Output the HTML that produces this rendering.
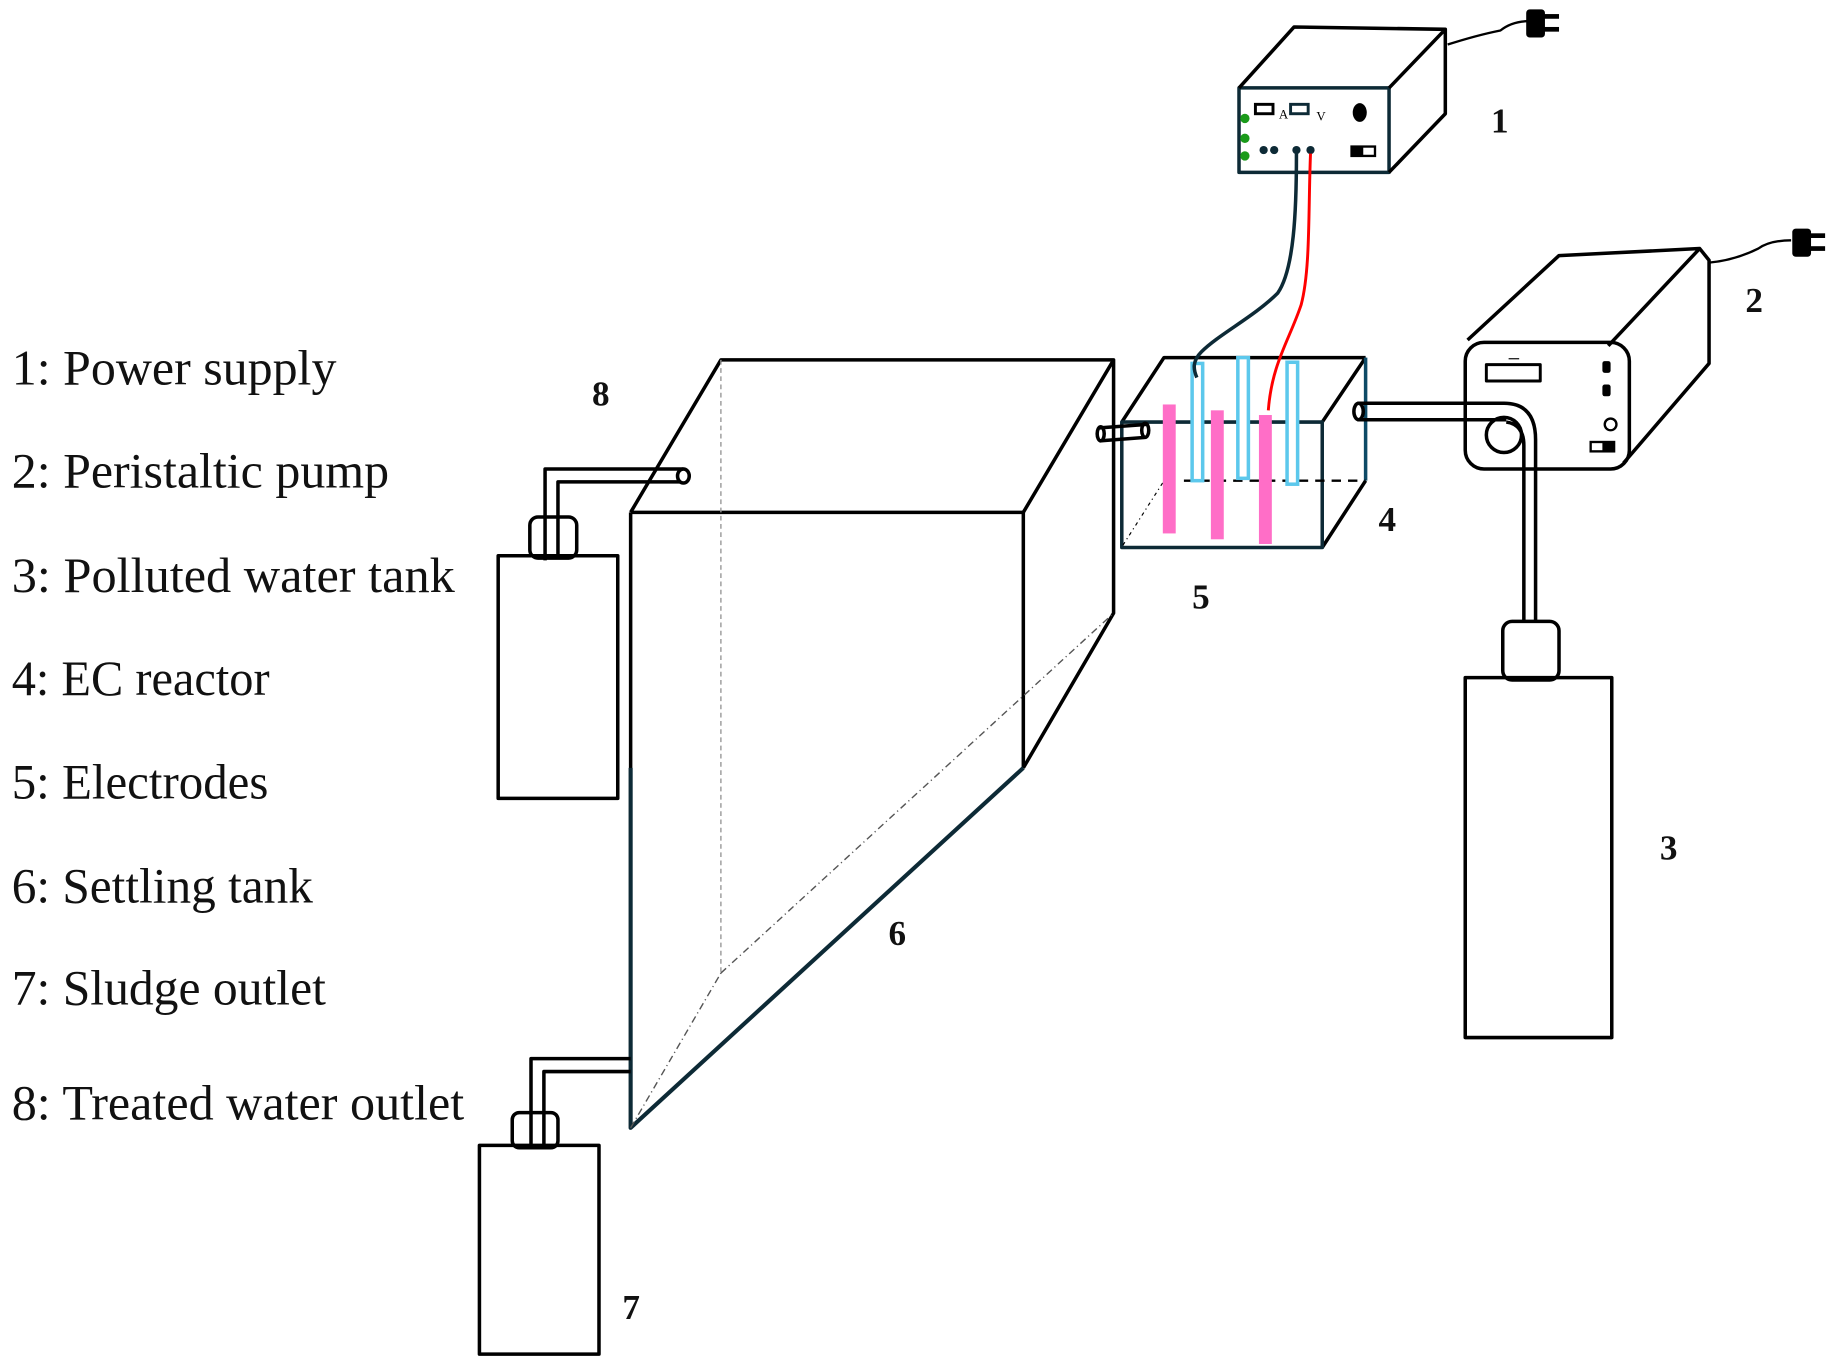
<!DOCTYPE html>
<html><head><meta charset="utf-8"><style>
html,body{margin:0;padding:0;background:#fff;}
svg{display:block;}
text{font-family:"Liberation Serif",serif;}
</style></head><body>
<svg width="1838" height="1367" viewBox="0 0 1568 1166" preserveAspectRatio="none" xmlns="http://www.w3.org/2000/svg">
<g font-size="42" fill="#111">
<text x="10" y="328" textLength="277" lengthAdjust="spacingAndGlyphs">1: Power supply</text>
<text x="10" y="416" textLength="322" lengthAdjust="spacingAndGlyphs">2: Peristaltic pump</text>
<text x="10" y="505" textLength="378" lengthAdjust="spacingAndGlyphs">3: Polluted water tank</text>
<text x="10" y="593" textLength="220" lengthAdjust="spacingAndGlyphs">4: EC reactor</text>
<text x="10" y="681" textLength="219" lengthAdjust="spacingAndGlyphs">5: Electrodes</text>
<text x="10" y="770" textLength="257" lengthAdjust="spacingAndGlyphs">6: Settling tank</text>
<text x="10" y="857" textLength="268" lengthAdjust="spacingAndGlyphs">7: Sludge outlet</text>
<text x="10" y="955" textLength="386" lengthAdjust="spacingAndGlyphs">8: Treated water outlet</text>
</g>
<g font-size="30" font-weight="bold" fill="#111">
<text x="1272" y="113">1</text>
<text x="1489" y="266">2</text>
<text x="1416" y="733">3</text>
<text x="1176" y="453">4</text>
<text x="1017" y="519">5</text>
<text x="758" y="806">6</text>
<text x="531" y="1125">7</text>
<text x="505" y="346">8</text>
</g>
<g fill="none" stroke="#000" stroke-width="3" stroke-linejoin="round">
<rect x="1057" y="75" width="128" height="72" stroke="#0d2a36"/>
<path d="M1057 75 L1104 23 L1233 25 L1185 75 M1233 25 L1233 97 L1185 147"/>
<path d="M1235 38 Q1260 30 1280 26 Q1290 18 1305 18" stroke-width="2"/>
<rect x="1250" y="292" width="140" height="108" rx="16"/>
<path d="M1252 290 L1330 218 L1450 212 L1458 222 L1458 310 L1385 395 M1450 212 L1372 295"/>
<path d="M1458 224 Q1480 222 1500 212 Q1510 205 1528 205" stroke-width="2"/>
<rect x="1268" y="311" width="46" height="14" stroke-width="2.5"/>
<circle cx="1283" cy="371" r="15"/>
<circle cx="1374" cy="362" r="5" stroke-width="2"/>
<path d="M957 360 L993 305 L1165 305 M1128 360 L1165 305 M1128 467 L1165 410"/>
<path d="M1165 305 L1165 410" stroke="#0d4a66"/>
<rect x="957" y="360" width="171" height="107" stroke="#0d2a36"/>
<path d="M1010 410 L1165 410" stroke-dasharray="8 6" stroke-width="2"/>
<path d="M958 465 L1002 396" stroke-width="1" stroke-dasharray="3 3 1 3"/>
<path d="M538 437 L615 307 L950 307 L950 523 L873 655 M873 437 L950 307"/>
<path d="M538 437 L873 437 L873 655"/>
<path d="M538 437 L538 962" />
<path d="M538 655 L538 962 L873 655" stroke="#0d2a36" stroke-width="3.5"/>
<path d="M615 307 L615 830" stroke="#999" stroke-width="1.2" stroke-dasharray="4 3"/>
<path d="M615 830 L950 523 M538 962 L615 830" stroke="#555" stroke-width="1.2" stroke-dasharray="6 3 1 3"/>
<rect x="425" y="474" width="102" height="207"/>
<rect x="452" y="441" width="40" height="35" rx="7"/>
<path d="M465 478 L465 400 L583 400 M476 476 L476 411 L580 411"/>
<ellipse cx="583" cy="406" rx="5" ry="6"/>
<rect x="409" y="977" width="102" height="178"/>
<rect x="437" y="949" width="39" height="30" rx="6"/>
<path d="M453 979 L453 903 L538 903 M464 978 L464 914 L538 914"/>
<rect x="1250" y="578" width="125" height="307"/>
<rect x="1282" y="530" width="48" height="50" rx="8"/>
<path d="M1300 530 L1300 380 Q1300 362 1285 360 M1310 530 L1310 375 Q1310 344 1283 344 L1158 344 M1285 358 L1158 358"/>
<ellipse cx="1159" cy="351" rx="4" ry="7"/>
<path d="M938 365 L978 362 M938 376 L978 373"/>
<ellipse cx="939" cy="370" rx="3" ry="6"/>
<ellipse cx="977" cy="367" rx="3" ry="6"/>
</g>
<g>
<rect x="1071" y="89" width="15" height="8" fill="#fff" stroke="#000" stroke-width="2.5"/>
<rect x="1101" y="89" width="15" height="8" fill="#fff" stroke="#0d2a36" stroke-width="2.5"/>
<text x="1091" y="101" font-size="11" font-family="Liberation Sans,sans-serif">A</text>
<text x="1123" y="103" font-size="11" font-family="Liberation Sans,sans-serif">V</text>
<ellipse cx="1160" cy="96" rx="6" ry="8" fill="#000"/>
<circle cx="1062" cy="101" r="4" fill="#1a9a1a"/><circle cx="1062" cy="118" r="4" fill="#1a9a1a"/><circle cx="1062" cy="133" r="4" fill="#1a9a1a"/>
<circle cx="1078" cy="128" r="3.5" fill="#0d2a36"/><circle cx="1087" cy="128" r="3.5" fill="#0d2a36"/>
<circle cx="1106" cy="128" r="3.5" fill="#0d2a36"/><circle cx="1118" cy="128" r="3.5" fill="#0d2a36"/>
<rect x="1152" y="124" width="22" height="10" fill="#000"/><rect x="1163" y="126" width="9" height="6" fill="#fff"/>
<rect x="1302" y="8" width="16" height="24" rx="3" fill="#000"/><rect x="1316" y="12" width="14" height="4" fill="#000"/><rect x="1316" y="23" width="14" height="4" fill="#000"/>
<rect x="1529" y="195" width="16" height="24" rx="3" fill="#000"/><rect x="1543" y="199" width="14" height="4" fill="#000"/><rect x="1543" y="210" width="14" height="4" fill="#000"/>
<rect x="1367" y="308" width="7" height="10" rx="2" fill="#000"/><rect x="1367" y="328" width="7" height="10" rx="2" fill="#000"/>
<rect x="1356" y="376" width="22" height="10" fill="#000"/><rect x="1358" y="378" width="9" height="6" fill="#fff"/>
<path d="M1287 306 L1296 306" stroke="#000" stroke-width="1"/>
</g>
<g>
<rect x="1017" y="310" width="9" height="100" fill="#fff" stroke="#5cc8ec" stroke-width="3"/>
<rect x="1056" y="305" width="9" height="103" fill="#fff" stroke="#5cc8ec" stroke-width="3"/>
<rect x="1098" y="309" width="9" height="104" fill="#fff" stroke="#5cc8ec" stroke-width="3"/>
<rect x="992" y="345" width="11" height="110" fill="#ff6ec7"/>
<rect x="1033" y="350" width="11" height="110" fill="#ff6ec7"/>
<rect x="1074" y="354" width="11" height="110" fill="#ff6ec7"/>
</g>
<path d="M1106 131 C1106 180 1104 230 1090 250 C1070 270 1040 285 1025 300 C1017 308 1018 315 1021 322" fill="none" stroke="#0d2a36" stroke-width="3"/>
<path d="M1118 131 C1116 180 1118 230 1110 260 C1100 290 1085 310 1082 350" fill="none" stroke="#ff0000" stroke-width="2.5"/>
</svg>
</body></html>
